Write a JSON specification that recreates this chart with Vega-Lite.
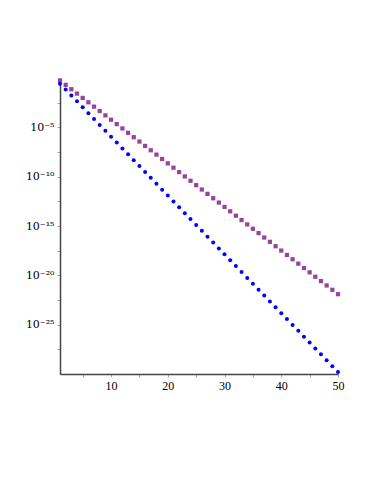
{
  "$schema": "https://vega.github.io/schema/vega-lite/v6.json",
  "autosize": {"type": "none"},
  "padding": {"left": 60, "top": 78, "right": 33, "bottom": 106},
  "width": 278,
  "height": 296,
  "background": "white",
  "config": {"view": {"stroke": null}},
  "data": {"values": [
    {"n":1,"p":5.60e-1,"b":2.63e-1},{"n":2,"p":2.02e-1,"b":6.66e-2},{"n":3,"p":7.31e-2,"b":1.69e-2},{"n":4,"p":2.64e-2,"b":4.28e-3},{"n":5,"p":9.55e-3,"b":1.08e-3},
    {"n":6,"p":3.45e-3,"b":2.75e-4},{"n":7,"p":1.25e-3,"b":6.95e-5},{"n":8,"p":4.51e-4,"b":1.76e-5},{"n":9,"p":1.63e-4,"b":4.46e-6},{"n":10,"p":5.89e-5,"b":1.13e-6},
    {"n":11,"p":2.13e-5,"b":2.86e-7},{"n":12,"p":7.69e-6,"b":7.26e-8},{"n":13,"p":2.78e-6,"b":1.84e-8},{"n":14,"p":1.00e-6,"b":4.66e-9},{"n":15,"p":3.63e-7,"b":1.18e-9},
    {"n":16,"p":1.31e-7,"b":2.99e-10},{"n":17,"p":4.74e-8,"b":7.57e-11},{"n":18,"p":1.71e-8,"b":1.92e-11},{"n":19,"p":6.19e-9,"b":4.86e-12},{"n":20,"p":2.24e-9,"b":1.23e-12},
    {"n":21,"p":8.09e-10,"b":3.12e-13},{"n":22,"p":2.92e-10,"b":7.90e-14},{"n":23,"p":1.06e-10,"b":2.00e-14},{"n":24,"p":3.82e-11,"b":5.07e-15},{"n":25,"p":1.38e-11,"b":1.28e-15},
    {"n":26,"p":4.99e-12,"b":3.25e-16},{"n":27,"p":1.80e-12,"b":8.25e-17},{"n":28,"p":6.52e-13,"b":2.09e-17},{"n":29,"p":2.36e-13,"b":5.29e-18},{"n":30,"p":8.51e-14,"b":1.34e-18},
    {"n":31,"p":3.08e-14,"b":3.40e-19},{"n":32,"p":1.11e-14,"b":8.60e-20},{"n":33,"p":4.02e-15,"b":2.18e-20},{"n":34,"p":1.45e-15,"b":5.52e-21},{"n":35,"p":5.25e-16,"b":1.40e-21},
    {"n":36,"p":1.90e-16,"b":3.54e-22},{"n":37,"p":6.85e-17,"b":8.98e-23},{"n":38,"p":2.48e-17,"b":2.27e-23},{"n":39,"p":8.95e-18,"b":5.76e-24},{"n":40,"p":3.24e-18,"b":1.46e-24},
    {"n":41,"p":1.17e-18,"b":3.70e-25},{"n":42,"p":4.23e-19,"b":9.37e-26},{"n":43,"p":1.53e-19,"b":2.37e-26},{"n":44,"p":5.52e-20,"b":6.01e-27},{"n":45,"p":2.00e-20,"b":1.52e-27},
    {"n":46,"p":7.21e-21,"b":3.86e-28},{"n":47,"p":2.61e-21,"b":9.78e-29},{"n":48,"p":9.42e-22,"b":2.48e-29},{"n":49,"p":3.40e-22,"b":6.28e-30},{"n":50,"p":1.23e-22,"b":1.59e-30}
  ]},
  "transform": [{"fold": ["p", "b"], "as": ["series", "v"]}],
  "mark": {"type": "point", "filled": true, "opacity": 1, "clip": false},
  "encoding": {
    "x": {
      "field": "n", "type": "quantitative",
      "scale": {"domain": [1, 50], "nice": false, "zero": false},
      "axis": {
        "title": null, "grid": false,
        "values": [5, 10, 15, 20, 25, 30, 35, 40, 45, 50],
        "labelExpr": "datum.value % 10 == 0 ? datum.label : ''",
        "domainColor": "#444444", "domainWidth": 1.5,
        "tickColor": "#aaaaaa", "tickSize": 3,
        "labelFont": "Liberation Serif", "labelFontSize": 12, "labelColor": "#000000",
        "labelPadding": 3, "labelFlush": false
      }
    },
    "y": {
      "field": "v", "type": "quantitative",
      "scale": {"type": "log", "domain": [1e-30, 1], "nice": false},
      "axis": {
        "title": null, "grid": false,
        "values": [3.1623e-3, 1e-5, 3.1623e-8, 1e-10, 3.1623e-13, 1e-15, 3.1623e-18, 1e-20, 3.1623e-23, 1e-25, 3.1623e-28],
        "labelExpr": "abs(log(datum.value)/LN10 + 5) < 0.01 ? '10⁻⁵' : abs(log(datum.value)/LN10 + 10) < 0.01 ? '10⁻¹⁰' : abs(log(datum.value)/LN10 + 15) < 0.01 ? '10⁻¹⁵' : abs(log(datum.value)/LN10 + 20) < 0.01 ? '10⁻²⁰' : abs(log(datum.value)/LN10 + 25) < 0.01 ? '10⁻²⁵' : ''",
        "domainColor": "#444444", "domainWidth": 1.5,
        "tickColor": "#aaaaaa", "tickSize": 3,
        "labelFont": "DejaVu Serif", "labelFontSize": 11, "labelColor": "#000000",
        "labelPadding": 3, "labelFlush": false
      }
    },
    "shape": {
      "field": "series", "type": "nominal",
      "scale": {"domain": ["p", "b"], "range": ["square", "circle"]},
      "legend": null
    },
    "color": {
      "field": "series", "type": "nominal",
      "scale": {"domain": ["p", "b"], "range": ["#96469a", "#0000ff"]},
      "legend": null
    },
    "size": {
      "field": "series", "type": "nominal",
      "scale": {"domain": ["p", "b"], "range": [18, 16]},
      "legend": null
    }
  }
}
